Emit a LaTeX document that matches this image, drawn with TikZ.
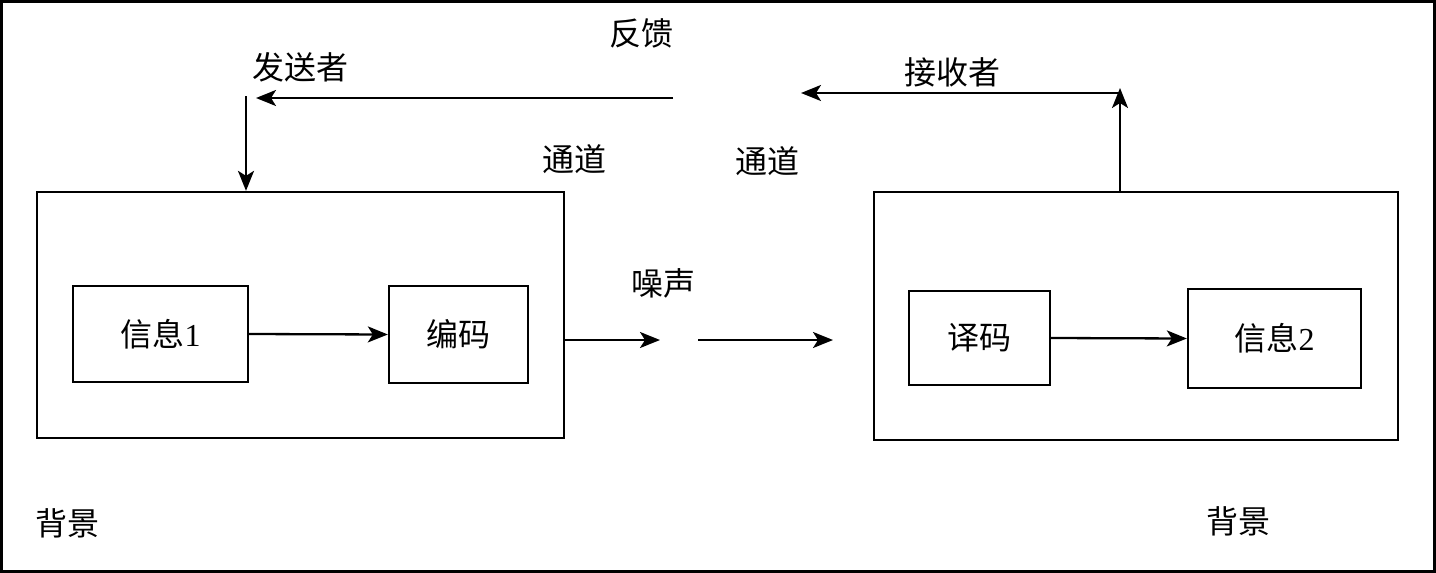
\documentclass[tikz,border=0pt]{standalone}
\usepackage{fontspec}
\setmainfont{Liberation Serif}
\newfontfamily\cjk{Noto Sans CJK SC}
\usetikzlibrary{arrows.meta}
\tikzset{
  x=1pt, y=-1pt,
  every node/.style={font=\fontsize{32}{38}\selectfont},
  box/.style={draw, line width=2.3pt, inner sep=0pt},
  lbl/.style={inner sep=0pt},
  arr/.style={line width=2.3pt, -{Stealth[length=20pt,width=16pt,inset=5pt]}},
}
\begin{document}
\begin{tikzpicture}
\useasboundingbox (0,0) rectangle (1436,573);
\draw[line width=2.5pt] (1.5,1.5) rectangle (1434.5,571.5);
% boxes
\node[box, minimum width=527pt, minimum height=246pt] (leftbox) at (300.5,315) {};
\node[box, minimum width=175pt, minimum height=96pt] (info1) at (160.5,334) {{\cjk 信息}1};
\node[box, minimum width=139pt, minimum height=97pt] (enc) at (458.5,334.5) {\cjk 编码};
\node[box, minimum width=524pt, minimum height=248pt] (rightbox) at (1136,316) {};
\node[box, minimum width=141pt, minimum height=94pt] (dec) at (979.5,338) {\cjk 译码};
\node[box, minimum width=173pt, minimum height=99pt] (info2) at (1274.5,338.5) {{\cjk 信息}2};
% labels
\node[lbl] (sender) at (300,67) {\cjk 发送者};
\node[lbl] (feedback) at (641,33) {\cjk 反馈};
\node[lbl] (receiver) at (952,72) {\cjk 接收者};
\node[lbl] (chan1) at (574,159) {\cjk 通道};
\node[lbl] (chan2) at (767,161) {\cjk 通道};
\node[lbl] (noise) at (663,283) {\cjk 噪声};
\node[lbl] (bg1) at (67,523) {\cjk 背景};
\node[lbl] (bg2) at (1238,521) {\cjk 背景};
% coordinates
\coordinate (n1) at (660,340);
\coordinate (n2) at (698,340);
\coordinate (n3) at (833,340);
\coordinate (r1) at (1120,88);
\coordinate (r2) at (1120,93);
\coordinate (r3) at (801,93);
\coordinate (f1) at (673,98);
\coordinate (f2) at (256,98);
\coordinate (d1) at (246,96);
% connectors
\draw[arr] (info1.east) -- (enc.west);
\draw[arr] (leftbox.east |- n1) -- (n1);
\draw[arr] (n2) -- (n3);
\draw[arr] (dec.east) -- (info2.west);
\draw[arr] (rightbox.north -| r1) -- (r1);
\draw[arr] (r2) -- (r3);
\draw[arr] (f1) -- (f2);
\draw[arr] (d1) -- (leftbox.north -| d1);
\end{tikzpicture}
\end{document}
